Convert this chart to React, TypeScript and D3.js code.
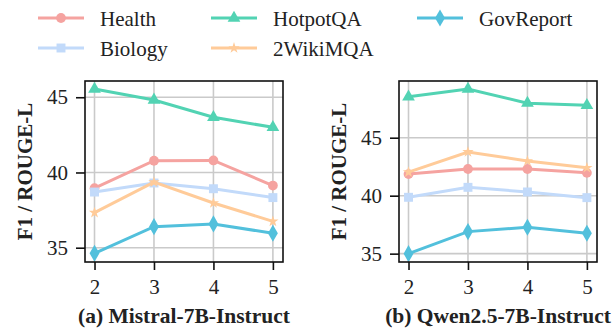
import { useEffect, useRef } from 'react';
import * as d3 from 'd3';

const X_VALUES = [2, 3, 4, 5];
const SERIES = ['Health', 'Biology', 'HotpotQA', '2WikiMQA', 'GovReport'];
const COLORS = ['#F5A3A0', '#C2DAFA', '#52D3B3', '#FFCB99', '#52C0DC'];
const MARKERS = ['circle', 'square', 'triangle', 'star', 'diamond'];

// Mistral-7B-Instruct
const MISTRAL_HEALTH = [38.96, 40.78, 40.8, 39.13];
const MISTRAL_BIOLOGY = [38.7, 39.3, 38.92, 38.33];
const MISTRAL_HOTPOT = [45.55, 44.82, 43.67, 43.0];
const MISTRAL_2WIKI = [37.33, 39.36, 37.97, 36.75];
const MISTRAL_GOV = [34.63, 36.4, 36.58, 35.96];

// Qwen2.5-7B-Instruct
const QWEN_HEALTH = [41.86, 42.3, 42.3, 41.97];
const QWEN_BIOLOGY = [39.86, 40.72, 40.32, 39.83];
const QWEN_HOTPOT = [48.53, 49.19, 47.98, 47.79];
const QWEN_2WIKI = [42.03, 43.77, 42.99, 42.41];
const QWEN_GOV = [35.0, 36.9, 37.28, 36.76];

const Y_TICKS = [35, 40, 45];

const PANELS = [
  {
    title: '(a) Mistral-7B-Instruct',
    values: [MISTRAL_HEALTH, MISTRAL_BIOLOGY, MISTRAL_HOTPOT, MISTRAL_2WIKI, MISTRAL_GOV],
    yDomain: [34.05, 46.08],
    left: 85,
  },
  {
    title: '(b) Qwen2.5-7B-Instruct',
    values: [QWEN_HEALTH, QWEN_BIOLOGY, QWEN_HOTPOT, QWEN_2WIKI, QWEN_GOV],
    yDomain: [34.28, 49.89],
    left: 399,
  },
];

const FONT = 'Liberation Serif, Times New Roman, Times, serif';

function symbolFor(kind: string) {
  if (kind === 'circle') return d3.symbol(d3.symbolCircle, 75);
  if (kind === 'square') return d3.symbol(d3.symbolSquare, 80);
  if (kind === 'triangle') return d3.symbol(d3.symbolTriangle, 70);
  if (kind === 'star') return d3.symbol(d3.symbolStar, 40);
  return d3.symbol(d3.symbolDiamond, 85);
}

export default function App() {
  const svgRef = useRef<SVGSVGElement>(null);

  useEffect(() => {
    document.body.style.margin = '0';
    const el = svgRef.current;
    if (!el) return;
    const svg = d3.select(el);
    svg.selectAll('*').remove();

    const W = 198;
    const top = 81;
    const bottom = 262;

    PANELS.forEach((p) => {
      const x = d3.scaleLinear().domain([1.84, 5.17]).range([p.left, p.left + W]);
      const y = d3.scaleLinear().domain(p.yDomain).range([bottom, top]);
      const g = svg.append('g');

      // grid
      X_VALUES.forEach((v) => {
        g.append('line').attr('x1', x(v)).attr('x2', x(v)).attr('y1', top).attr('y2', bottom)
          .attr('stroke', '#cacaca').attr('stroke-width', 1.6);
      });
      Y_TICKS.forEach((v) => {
        g.append('line').attr('x1', p.left).attr('x2', p.left + W).attr('y1', y(v)).attr('y2', y(v))
          .attr('stroke', '#cacaca').attr('stroke-width', 1.6);
      });

      // lines + markers
      p.values.forEach((vals, si) => {
        const pts = vals.map((v, i) => [x(X_VALUES[i]), y(v)] as [number, number]);
        g.append('path')
          .attr('d', d3.line()(pts) || '')
          .attr('fill', 'none')
          .attr('stroke', COLORS[si])
          .attr('stroke-width', 3);
        pts.forEach((pt) => {
          g.append('path')
            .attr('d', symbolFor(MARKERS[si])() || '')
            .attr('transform', `translate(${pt[0]},${pt[1]})`)
            .attr('fill', COLORS[si]);
        });
      });

      // frame
      g.append('rect').attr('x', p.left).attr('y', top).attr('width', W).attr('height', bottom - top)
        .attr('fill', 'none').attr('stroke', '#111').attr('stroke-width', 1.6);

      // axes
      const ax = g.append('g').attr('transform', `translate(0,${bottom})`)
        .call(d3.axisBottom(x).tickValues(X_VALUES).tickFormat(d3.format('d')).tickSize(8).tickPadding(9));
      ax.select('.domain').remove();
      const ay = g.append('g').attr('transform', `translate(${p.left},0)`)
        .call(d3.axisLeft(y).tickValues(Y_TICKS).tickSize(9).tickPadding(8));
      ay.select('.domain').remove();
      ax.attr('font-family', null).attr('font-size', null);
      ay.attr('font-family', null).attr('font-size', null);
      g.selectAll('.tick line').attr('stroke', '#111').attr('stroke-width', 1.6);
      g.selectAll('.tick text').attr('fill', '#222').style('font-size', '21px').style('font-family', FONT);

      // y label
      g.append('text')
        .attr('transform', `translate(${p.left - 60},${(top + bottom) / 2}) rotate(-90)`)
        .attr('text-anchor', 'middle')
        .attr('dominant-baseline', 'central')
        .style('font-family', FONT)
        .style('font-weight', 'bold')
        .style('font-size', '21px')
        .attr('fill', '#222')
        .text('F1 / ROUGE-L');

      // subtitle
      g.append('text')
        .attr('x', p.left + W / 2)
        .attr('y', 323)
        .attr('text-anchor', 'middle')
        .style('font-family', FONT)
        .style('font-weight', 'bold')
        .style('font-size', '21.5px')
        .attr('fill', '#222')
        .text(p.title);
    });

    // legend
    const legendPos = [
      [38, 18], [38, 48], [211, 18], [211, 48], [417, 18],
    ];
    SERIES.forEach((name, i) => {
      const [lx, ly] = legendPos[i];
      const lg = svg.append('g').attr('transform', `translate(${lx},${ly})`);
      lg.append('line').attr('x1', 0).attr('x2', 46).attr('y1', 0).attr('y2', 0)
        .attr('stroke', COLORS[i]).attr('stroke-width', 3);
      lg.append('path').attr('d', symbolFor(MARKERS[i])() || '')
        .attr('transform', 'translate(23,0)').attr('fill', COLORS[i]);
      lg.append('text').attr('x', 62).attr('y', 1).attr('dominant-baseline', 'central')
        .style('font-family', FONT).style('font-size', '21px').attr('fill', '#222').text(name);
    });
  }, []);

  return <svg ref={svgRef} width={615} height={328} style={{ display: 'block', background: '#fff' }} />;
}
